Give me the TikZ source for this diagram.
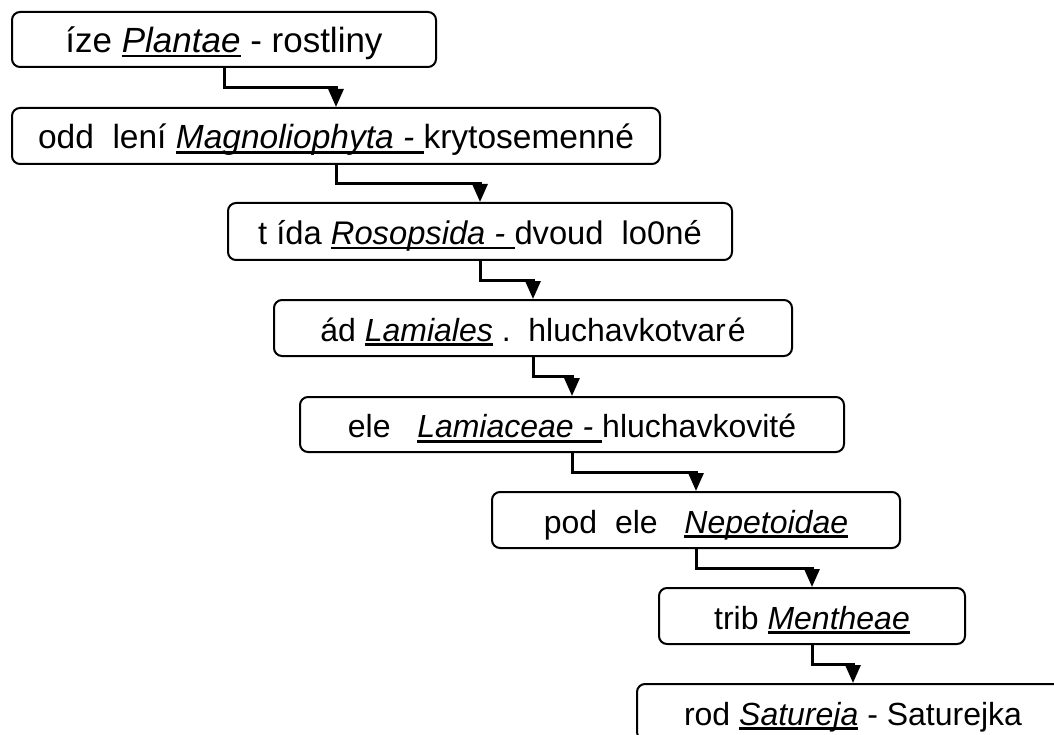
\documentclass[tikz,border=0pt]{standalone}
\usepackage{fontspec}
\setmainfont{Liberation Sans}
\usetikzlibrary{arrows.meta,calc}
\newcommand\ulx[1]{\sbox0{#1}\rlap{\rule[-5pt]{\wd0}{2.6pt}}\usebox0}
\tikzset{
  taxbox/.style={draw, line width=2pt, rounded corners=8pt, rectangle,
    inner sep=0pt, text height=26pt, text depth=0pt,
    font=\fontsize{32pt}{36pt}\selectfont},
  conn/.style={line width=3pt, -{Triangle[width=15pt,length=18pt]}}
}
\begin{document}
\begin{tikzpicture}[x=1pt,y=-1pt]
\useasboundingbox (0,0) rectangle (1054,735);
\clip (0,0) rectangle (1054,735);
\node[taxbox, minimum width=424pt, minimum height=55pt,
  font=\fontsize{35pt}{38pt}\selectfont] (b1) at (224,39.5)
  {íze \ulx{\textit{Plantae}} - rostliny};
\node[taxbox, minimum width=648pt, minimum height=56pt,
  font=\fontsize{33.5pt}{37pt}\selectfont] (b2) at (336,136)
  {odd\ \ lení \ulx{\textit{Magnoliophyta - }}krytosemenné};
\node[taxbox, minimum width=504pt, minimum height=57pt,
  font=\fontsize{32.7pt}{36pt}\selectfont] (b3) at (480,231.5)
  {t\ ída \ulx{\textit{Rosopsida - }}dvoud\ \ lo0né};
\node[taxbox, minimum width=518pt, minimum height=56pt] (b4) at (533,328)
  {ád \ulx{\textit{Lamiales}} .\ \ hluchavkotvar\kern2pt é};
\node[taxbox, minimum width=544pt, minimum height=55pt] (b5) at (572,424.5)
  {ele\ \ \ \ulx{\textit{Lamiaceae - }}hluchavkovité};
\node[taxbox, minimum width=408pt, minimum height=56pt] (b6) at (696,520)
  {pod\ \ ele\ \ \ \ulx{\textit{Nepetoidae}}};
\node[taxbox, minimum width=306pt, minimum height=56pt] (b7) at (812,616)
  {trib \ulx{\textit{Mentheae}}};
\node[taxbox, minimum width=432pt, minimum height=56pt] (b8) at (853,712)
  {rod \ulx{\textit{Satureja}} - Saturejka};
\foreach \a/\b in {b1/b2,b2/b3,b3/b4,b4/b5,b5/b6,b6/b7,b7/b8}{
  \coordinate (m-\a) at ($(\a.south)!0.5!(\b.north)$);
  \draw[conn] (\a.south) -- (\a.south |- m-\a) -| (\b.north);
}
\end{tikzpicture}
\end{document}
